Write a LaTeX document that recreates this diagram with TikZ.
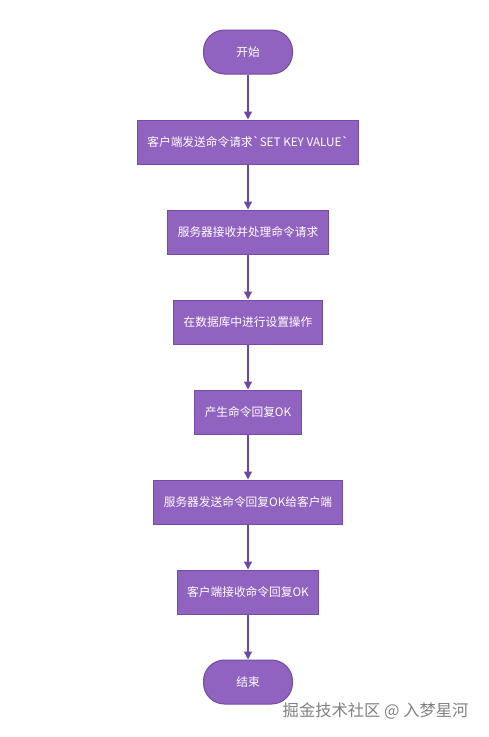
\documentclass[tikz,border=0pt]{standalone}
\usepackage{fontspec}
\usepackage{tikz}
\usetikzlibrary{positioning, arrows.meta}
\newfontfamily\cjk{Noto Sans CJK SC}

\definecolor{boxfill}{RGB}{143,99,191}
\definecolor{boxline}{RGB}{116,76,168}
\definecolor{flowline}{RGB}{110,70,170}

\tikzset{
    stepbox/.style={draw=boxline, fill=boxfill, line width=1pt, text=white,
        font=\cjk\fontsize{11.7}{14}\selectfont, inner xsep=10pt,
        minimum height=44pt},
    endbox/.style={stepbox, rounded corners=21pt, minimum width=89pt},
    flow/.style={draw=flowline, line width=1.3pt, -{Triangle[length=8pt, width=8pt]}}
}

\begin{document}
\begin{tikzpicture}[x=1pt, y=1pt, node distance=45pt]
    \useasboundingbox (0,0) rectangle (489,-737);

    \node[endbox] (start) at (248,-52) {开始};
    \node[stepbox, below=of start] (send) {客户端发送命令请求`SET KEY VALUE`};
    \node[stepbox, below=of send] (recv) {服务器接收并处理命令请求};
    \node[stepbox, below=of recv] (db) {在数据库中进行设置操作};
    \node[stepbox, below=of db] (reply) {产生命令回复OK};
    \node[stepbox, below=of reply] (back) {服务器发送命令回复OK给客户端};
    \node[stepbox, below=of back] (client) {客户端接收命令回复OK};
    \node[endbox, below=of client] (stop) {结束};

    \foreach \a/\b in {start/send, send/recv, recv/db, db/reply, reply/back, back/client, client/stop}
        \draw[flow] (\a) -- (\b);

    \node[anchor=east, text=gray, font=\cjk\fontsize{16.3}{18}\selectfont] (mark) at (472,-711) {掘金技术社区 @ 入梦星河};
\end{tikzpicture}
\end{document}
